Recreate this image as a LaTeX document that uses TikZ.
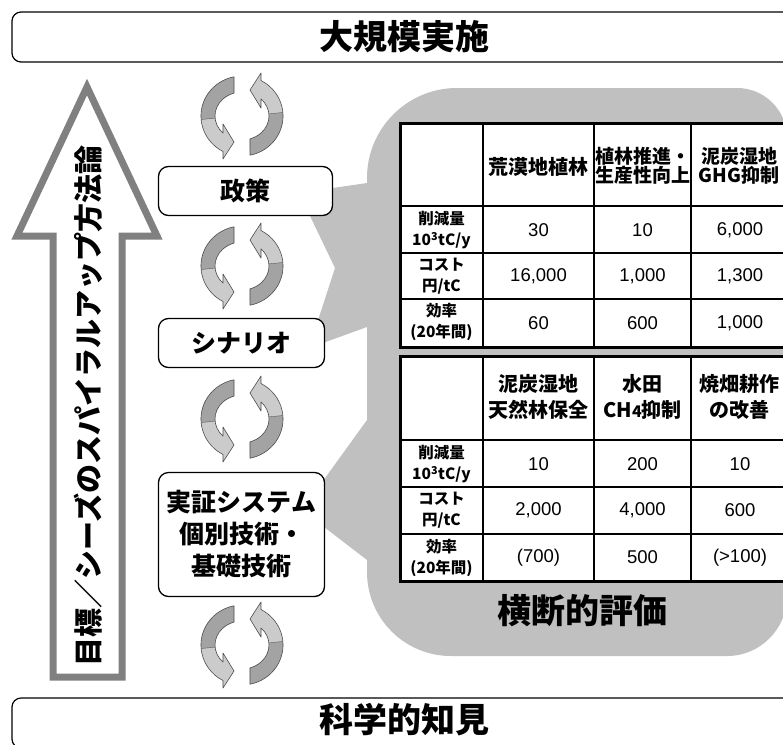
\documentclass[tikz,border=0pt]{standalone}
\usepackage{fontspec}
\setmainfont{Liberation Sans}
\newfontfamily\jp{Noto Sans CJK JP}
\definecolor{callgray}{HTML}{C0C0C0}
\definecolor{arrgray}{HTML}{808080}
\definecolor{cycdark}{HTML}{A3A3A3}
\definecolor{cyclight}{HTML}{CBCBCB}
\definecolor{cycline}{HTML}{4D4D4D}
\tikzset{
 cycarrow/.pic={
  \begin{scope}[yscale=-1]
   \fill[cycdark] (-8,39.2) arc[start angle=101.2, end angle=185, x radius=41, y radius=40]
      -- (-26.9,-2.1) arc[start angle=185, end angle=107.2, x radius=27, y radius=24] -- cycle;
   \fill[cyclight] (-40.8,-3.5) arc[start angle=185, end angle=242.4, x radius=41, y radius=40]
      -- (-19,-43) -- (-8,-26) -- (-19,-8) -- (-19,-17.1)
      arc[start angle=225.3, end angle=185, x radius=27, y radius=24] -- cycle;
   \draw[cycline, line width=0.6pt, line join=round] (-8,39.2)
      arc[start angle=101.2, end angle=242.4, x radius=41, y radius=40]
      -- (-19,-43) -- (-8,-26) -- (-19,-8) -- (-19,-17.1)
      arc[start angle=225.3, end angle=107.2, x radius=27, y radius=24] -- cycle;
   \draw[cycline, line width=0.4pt] (-40.8,-3.5) -- (-26.9,-2.1);
  \end{scope}
 },
 cycpair/.pic={
  \pic {cycarrow};
  \pic[rotate=180] {cycarrow};
 },
}
\begin{document}
\begin{tikzpicture}[x=1pt,y=-1pt,
  every node/.style={inner sep=0pt,outer sep=0pt},
  bar/.style={draw=black, line width=1.2pt, rounded corners=9pt, fill=white},
  stagebox/.style={draw=black, line width=1.3pt, rounded corners=10pt, fill=white, align=center,
     font=\jp\bfseries\fontsize{25}{32}\selectfont},
  title/.style={font=\jp\bfseries\fontsize{34}{34}\selectfont},
  hdr/.style={font=\jp\bfseries\fontsize{20}{26}\selectfont, align=center},
  hdrs/.style={font=\jp\bfseries\fontsize{19}{19}\selectfont, align=center},
  lbl/.style={font=\jp\bfseries\fontsize{15.5}{21}\selectfont, align=center},
  num/.style={font=\fontsize{18.5}{20}\selectfont},
  thick line/.style={line width=3pt},
  thin line/.style={line width=1.1pt},
]
\useasboundingbox (0,0) rectangle (783,744);
\clip (0,0) rectangle (783,744);
\fill[white] (0,0) rectangle (783,744);

% top and bottom bars
\node[bar, minimum width=784pt, minimum height=50pt] (topbar) at (404,37) {};
\node[title] (toptxt) at (404,37) {大規模実施};
\node[bar, minimum width=784pt, minimum height=50pt] (botbar) at (404,723) {};
\node[title] (bottxt) at (404,720) {科学的知見};

% big arrow
\draw[arrgray, line width=7pt, fill=white, line join=miter]
  (87,87) -- (157,236) -- (122,236) -- (122,677) -- (53,677) -- (53,236) -- (17,236) -- cycle;
\node[rotate=90, font=\jp\bfseries\fontsize{29}{29}\selectfont] (method) at (88,406)
  {目標／シーズのスパイラルアップ方法論};

% callout
\fill[callgray] (367,183) -- (299,193) -- (335,268) -- (309,348) -- (367,327)
  -- (367,420) -- (302,510) -- (367,560) -- (367,572)
  .. controls (367,618.4) and (404.6,656) .. (451,656) -- (727,656)
  .. controls (760.1,656) and (787,629.1) .. (787,596) -- (787,138)
  .. controls (787,110.4) and (764.6,88) .. (737,88) -- (457,88)
  .. controls (407.3,88) and (367,128.3) .. (367,178) -- cycle;

% stage boxes
\node[stagebox, minimum width=174pt, minimum height=49pt] (seisaku) at (245.5,191) {政策};
\node[stagebox, minimum width=166pt, minimum height=49pt] (scenario) at (241.5,343) {シナリオ};
\node[stagebox, minimum width=166pt, minimum height=124pt] (jissho) at (241.5,534.5)
  {実証システム\\個別技術・\\基礎技術};

% cycle icons
\pic (cyc1) at (242,116) {cycpair};
\pic (cyc2) at (242,266) {cycpair};
\pic (cyc3) at (242,419) {cycpair};
\pic (cyc4) at (242,645) {cycpair};

% table 1
\fill[white] (400,123) rectangle (792,347);
\draw[thin line] (483,123) -- (483,347) (594,123) -- (594,347) (691,123) -- (691,347)
  (400,206) -- (792,206) (400,253) -- (792,253) (400,299) -- (792,299);
\draw[thick line] (792,123) -- (400,123) -- (400,347) -- (792,347);

\node[hdr] (t1c2) at (538.5,167) {荒漠地植林};
\node[hdrs] (t1c3) at (642.5,166) {植林推進・\\生産性向上};
\node[hdrs] (t1c4) at (739,166) {泥炭湿地\\GHG抑制};
\node[lbl] (t1r1) at (441.5,230) {削減量\\10\textsuperscript{3}tC/y};
\node[lbl] (t1r2) at (441.5,276) {コスト\\円/tC};
\node[lbl] (t1r3) at (441.5,322) {効率\\(20年間)};
\node[num] (t1a1) at (538.5,230) {30};
\node[num] (t1a2) at (642.5,230) {10};
\node[num] (t1a3) at (740,230) {6,000};
\node[num] (t1b1) at (538.5,276) {16,000};
\node[num] (t1b2) at (642.5,276) {1,000};
\node[num] (t1b3) at (740,276) {1,300};
\node[num] (t1d1) at (538.5,323) {60};
\node[num] (t1d2) at (642.5,323) {600};
\node[num] (t1d3) at (740,323) {1,000};

% table 2
\fill[white] (400,356) rectangle (792,581);
\draw[thin line] (483,356) -- (483,581) (594,356) -- (594,581) (691,356) -- (691,581)
  (400,440) -- (792,440) (400,487) -- (792,487) (400,534) -- (792,534);
\draw[thick line] (792,356) -- (400,356) -- (400,581) -- (792,581);

\node[hdr] (t2c2) at (538.5,397) {泥炭湿地\\天然林保全};
\node[hdr] (t2c3) at (642.5,397) {水田\\CH{\fontsize{16}{16}\selectfont 4}抑制};
\node[hdr] (t2c4) at (739,397) {焼畑耕作\\の改善};
\node[lbl] (t2r1) at (441.5,464) {削減量\\10\textsuperscript{3}tC/y};
\node[lbl] (t2r2) at (441.5,510.5) {コスト\\円/tC};
\node[lbl] (t2r3) at (441.5,557.5) {効率\\(20年間)};
\node[num] (t2a1) at (538.5,464) {10};
\node[num] (t2a2) at (642.5,464) {200};
\node[num] (t2a3) at (740,464) {10};
\node[num] (t2b1) at (538.5,510.5) {2,000};
\node[num] (t2b2) at (642.5,510.5) {4,000};
\node[num] (t2b3) at (740,510.5) {600};
\node[num] (t2d1) at (538.5,557.5) {(700)};
\node[num] (t2d2) at (642.5,557.5) {500};
\node[num] (t2d3) at (740,557.5) {(>100)};

\node[title] (odan) at (582,611) {横断的評価};
\end{tikzpicture}
\end{document}
